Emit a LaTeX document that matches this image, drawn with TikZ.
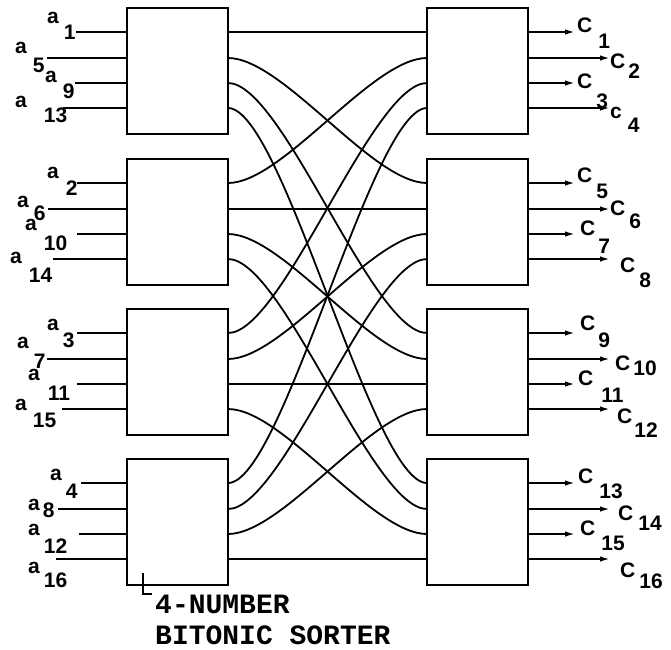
\documentclass[tikz,border=0pt]{standalone}
\usepackage{fontspec}
\setmainfont{Liberation Sans}
\newfontfamily\sorterfont{Liberation Mono}
\usetikzlibrary{arrows.meta,calc}

\begin{document}
\begin{tikzpicture}[
    x=1pt, y=-1pt,
    every node/.style={font=\bfseries\fontsize{21}{24}\selectfont, inner sep=0pt},
    sorter/.style={
        draw,
        line width=2.4pt,
        outer sep=0pt,
        anchor=north west,
        minimum width=101pt,
        minimum height=126pt
    },
    wire/.style={line width=1.8pt},
    outarr/.style={wire, -{Latex[length=10pt, width=5.5pt]}},
    ilabel/.style={anchor=base west},
    olabel/.style={anchor=base west},
    caption/.style={anchor=base west, font=\sorterfont\bfseries\fontsize{28}{30}\selectfont}
]
    \useasboundingbox (0,0) rectangle (671,649);

    % Sorters
    \foreach \i/\top in {1/8, 2/159, 3/309, 4/459} {
        \node[sorter] (L\i) at (127,\top) {};
        \node[sorter] (R\i) at (427,\top) {};
        \foreach \k/\dy in {1/24, 2/50, 3/75, 4/100} {
            \coordinate (L\i-in\k)  at ($(L\i.north west)+(0,\dy)$);
            \coordinate (L\i-out\k) at ($(L\i.north east)+(0,\dy)$);
            \coordinate (R\i-in\k)  at ($(R\i.north west)+(0,\dy)$);
            \coordinate (R\i-out\k) at ($(R\i.north east)+(0,\dy)$);
        }
    }

    % Inputs: n / box / port / line length / label x / label y / gap / drop
    \foreach \n/\i/\k/\len/\lx/\ly/\gap/\drop in {
            1/1/1/51/47/23/5/16,   5/1/2/80/15/53/6/19,
            9/1/3/52/45/82/6/16,   13/1/4/64/15/107/17/15,
            2/2/1/50/47/178/7/17,  6/2/2/79/17/207/5/13,
            10/2/3/50/25/230/7/20, 14/2/4/74/10/263/7/19,
            3/3/1/50/47/330/4/17,  7/3/2/80/17/348/5/20,
            11/3/3/50/28/380/8/20, 15/3/4/65/15/410/6/17,
            4/4/1/46/50/480/4/18,  8/4/2/69/28/510/3/7,
            12/4/3/48/28/535/4/18, 16/4/4/71/28/573/4/14} {
        \coordinate (a\n) at ([xshift=-\len pt]L\i-in\k);
        \draw[wire] (a\n) -- (L\i-in\k);
        \node[ilabel] (la\n) at (\lx,\ly) {a\hspace{\gap pt}\raisebox{-\drop pt}{\n}};
    }

    % Outputs: n / box / port / letter / label x / label y / gap / drop
    \foreach \n/\j/\k/\lt/\lx/\ly/\gap/\drop in {
            1/1/1/C/577/32/6/16,   2/1/2/C/610/68/3/10,
            3/1/3/C/577/88/4/20,   4/1/4/c/610/118/6/14,
            5/2/1/C/577/182/4/16,  6/2/2/C/610/215/4/13,
            7/2/3/C/580/235/3/18,  8/2/4/C/620/272/4/15,
            9/3/1/C/580/330/3/17,  10/3/2/C/615/370/3/5,
            11/3/3/C/578/385/8/17, 12/3/4/C/617/423/2/14,
            13/4/1/C/578/483/6/15, 14/4/2/C/618/520/5/10,
            15/4/3/C/580/535/6/15, 16/4/4/C/620/577/4/11} {
        \ifodd\k \def\len{47}\else \def\len{82}\fi
        \coordinate (c\n) at ([xshift=\len pt]R\j-out\k);
        \draw[outarr] (R\j-out\k) -- (c\n);
        \node[olabel] (lc\n) at (\lx,\ly) {\lt\hspace{\gap pt}\raisebox{-\drop pt}{\n}};
    }

    % Shuffle
    \foreach \i in {1,...,4} {
        \foreach \j in {1,...,4} {
            \draw[wire] (L\i-out\j) .. controls +(55,0) and +(-55,0) .. (R\j-in\i);
        }
    }

    % Caption
    \node[caption] (numlabel) at (155,613) {4-NUMBER};
    \node[caption] (sortlabel) at (155,644) {BITONIC SORTER};
    \coordinate (lead) at ($(L4.south west)+(16,-12)$);
    \draw[wire] (lead) |- ([xshift=-3pt]numlabel.north west);

\end{tikzpicture}
\end{document}
